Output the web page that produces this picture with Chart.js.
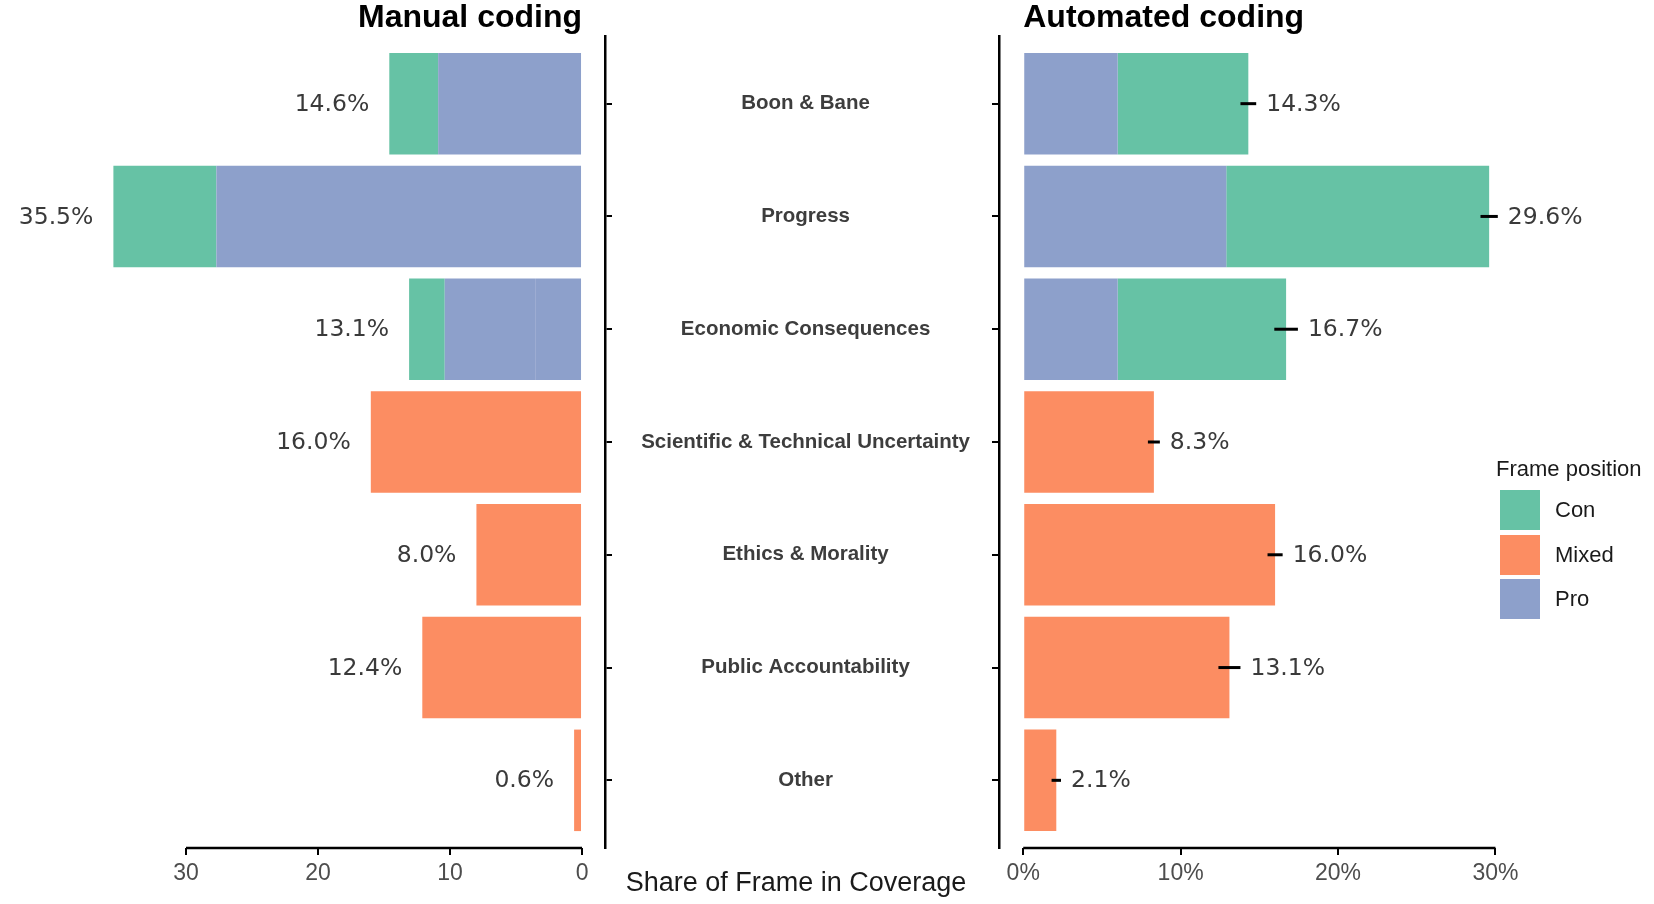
<!DOCTYPE html>
<html>
<head>
<meta charset="utf-8">
<title>Share of Frame in Coverage</title>
<script src="https://cdn.jsdelivr.net/npm/chart.js@4.4.1/dist/chart.umd.min.js"></script>
<style>
  html, body { margin: 0; padding: 0; background: #fff; }
  #wrap { position: relative; width: 1654px; height: 904px; overflow: hidden; font-family: 'Liberation Sans', Arial, sans-serif; }
  #manualBox { position: absolute; left: 0; top: 0; }
  #autoBox { position: absolute; left: 620px; top: 0; }
  #axisTitle { position: absolute; left: 560px; width: 472px; top: 865px; text-align: center; font-size: 27px; color: #1a1a1a; line-height: 34px; }
  #legend { position: absolute; left: 1496px; top: 455px; color: #1a1a1a; }
  #legend .ttl { font-size: 22px; line-height: 28px; margin-bottom: 5px; }
  #legend .row { display: flex; align-items: center; height: 44.5px; }
  #legend .key { width: 40px; height: 40px; margin-left: 4px; margin-right: 15px; }
  #legend .lab { font-size: 22px; }
</style>
</head>
<body>
<div id="wrap">
  <div id="manualBox"><canvas id="manualChart" width="625" height="904"></canvas></div>
  <div id="autoBox"><canvas id="autoChart" width="1034" height="904"></canvas></div>
  <div id="axisTitle">Share of Frame in Coverage</div>
  <div id="legend"></div>
</div>
<script>
// categorias, de cima para baixo
const categories = ['Boon & Bane', 'Progress', 'Economic Consequences', 'Scientific & Technical Uncertainty',
                    'Ethics & Morality', 'Public Accountability', 'Other'];
const positions = ['Con', 'Mixed', 'Pro'];
const positionColors = ['#66c2a5', '#fc8d62', '#8da0cb'];

// Manual coding (share in %)
const manualPro   = [10.9, 27.7, 3.5, 0, 0, 0, 0];
const manualPro2  = [0, 0, 6.9, 0, 0, 0, 0];   // segundo bloco "Pro" em Economic Consequences
const manualCon   = [3.7, 7.8, 2.7, 0, 0, 0, 0];
const manualMixed = [0, 0, 0, 16.0, 8.0, 12.1, 0.6];
const manualLabels = ['14.6%', '35.5%', '13.1%', '16.0%', '8.0%', '12.4%', '0.6%'];
const manualTicks = [0, 10, 20, 30];

// Automated coding (share in %)
const autoPro   = [6.0, 12.9, 6.0, 0, 0, 0, 0];
const autoCon   = [8.3, 16.7, 10.7, 0, 0, 0, 0];
const autoMixed = [0, 0, 0, 8.3, 16.0, 13.1, 2.1];
const autoError = [0.5, 0.55, 0.75, 0.38, 0.48, 0.7, 0.3];
const autoLabels = ['14.3%', '29.6%', '16.7%', '8.3%', '16.0%', '13.1%', '2.1%'];
const autoTicks = [0, 10, 20, 30];

const rowIndex = categories.map((c, i) => i);

function toPoints(arr) {
    return arr.map((v, i) => ({ x: v, y: i })).filter(p => p.x > 0);
}

function sumRows(...series) {
    return categories.map((c, i) => series.reduce((s, a) => s + a[i], 0));
}

const manualTotals = sumRows(manualPro, manualPro2, manualCon, manualMixed);
const autoTotals = sumRows(autoPro, autoCon, autoMixed);

Chart.defaults.font.family = "'Liberation Sans', Arial, sans-serif";
Chart.defaults.animation = false;

/**
 * Desenha eixo x "capado", barras de erro, rótulos e título do painel.
 */
const decorPlugin = {
    id: 'decor',
    afterDatasetsDraw(chart, args, opts) {
        const ctx = chart.ctx;
        const xs = chart.scales.x, ys = chart.scales.y;
        const area = chart.chartArea;
        ctx.save();

        // linha do eixo x só entre o primeiro e o último tick
        ctx.strokeStyle = '#000';
        ctx.lineWidth = 2.5;
        ctx.beginPath();
        ctx.moveTo(xs.getPixelForValue(opts.ticks[0]), area.bottom);
        ctx.lineTo(xs.getPixelForValue(opts.ticks[opts.ticks.length - 1]), area.bottom);
        ctx.stroke();

        // barras de erro
        if (opts.errors) {
            ctx.lineWidth = 3;
            opts.totals.forEach((t, i) => {
                const y = ys.getPixelForValue(i);
                ctx.beginPath();
                ctx.moveTo(xs.getPixelForValue(t - opts.errors[i]), y);
                ctx.lineTo(xs.getPixelForValue(t + opts.errors[i]), y);
                ctx.stroke();
            });
        }

        // rótulos de valor
        ctx.font = "23.5px 'DejaVu Sans'";
        ctx.fillStyle = '#3a3a3a';
        ctx.textBaseline = 'middle';
        opts.totals.forEach((t, i) => {
            const y = ys.getPixelForValue(i);
            if (opts.side === 'left') {
                ctx.textAlign = 'right';
                ctx.fillText(opts.labels[i], xs.getPixelForValue(t) - 20, y + 1);
            } else {
                ctx.textAlign = 'left';
                ctx.fillText(opts.labels[i], xs.getPixelForValue(t + opts.errors[i]) + 10, y + 1);
            }
        });

        // título do painel
        ctx.font = "bold 32px 'Liberation Sans'";
        ctx.fillStyle = '#000';
        ctx.textAlign = opts.titleAlign;
        ctx.fillText(opts.title, xs.getPixelForValue(0), 18);
        ctx.restore();
    }
};

function setTicks(values) {
    return (scale) => { scale.ticks = values.map(v => ({ value: v })); };
}

function initCharts() {
    // Painel esquerdo: codificação manual (eixo invertido)
    new Chart(document.getElementById('manualChart'), {
        type: 'bar',
        data: {
            datasets: [
                { label: 'Pro', data: toPoints(manualPro), backgroundColor: positionColors[2], stack: 'all' },
                { label: 'Pro', data: toPoints(manualPro2), backgroundColor: positionColors[2], stack: 'all' },
                { label: 'Con', data: toPoints(manualCon), backgroundColor: positionColors[0], stack: 'all' },
                { label: 'Mixed', data: toPoints(manualMixed), backgroundColor: positionColors[1], stack: 'all' }
            ]
        },
        options: {
            responsive: false,
            indexAxis: 'y',
            layout: { padding: { top: 36, left: 0, right: 0, bottom: 0 } },
            datasets: { bar: { categoryPercentage: 1, barPercentage: 0.9, borderWidth: 0 } },
            scales: {
                x: {
                    type: 'linear', reverse: true, stacked: true, min: -1.74, max: 44.09,
                    border: { display: false },
                    grid: { drawOnChartArea: false, drawTicks: true, tickLength: 7, color: '#000', lineWidth: 2 },
                    ticks: { font: { size: 23 }, color: '#4d4d4d', padding: 5 },
                    afterBuildTicks: setTicks(manualTicks),
                    afterFit: (s) => { s.height = 56; }
                },
                y: {
                    type: 'linear', position: 'right', reverse: true, min: -0.6, max: 6.6, offset: false,
                    border: { display: true, color: '#000', width: 2.5 },
                    grid: { offset: false, drawOnChartArea: false, drawTicks: true, tickLength: 7, color: '#000', lineWidth: 2 },
                    ticks: { display: false },
                    afterBuildTicks: setTicks(rowIndex),
                    afterFit: (s) => { s.width = 20; }
                }
            },
            plugins: {
                legend: { display: false },
                tooltip: { enabled: false },
                decor: { ticks: manualTicks, totals: manualTotals, labels: manualLabels, side: 'left',
                         title: 'Manual coding', titleAlign: 'right' }
            }
        },
        plugins: [decorPlugin]
    });

    // Painel direito: codificação automática
    new Chart(document.getElementById('autoChart'), {
        type: 'bar',
        data: {
            datasets: [
                { label: 'Pro', data: toPoints(autoPro), backgroundColor: positionColors[2], stack: 'all' },
                { label: 'Con', data: toPoints(autoCon), backgroundColor: positionColors[0], stack: 'all' },
                { label: 'Mixed', data: toPoints(autoMixed), backgroundColor: positionColors[1], stack: 'all' }
            ]
        },
        options: {
            responsive: false,
            indexAxis: 'y',
            layout: { padding: { top: 36, left: 0, right: 134, bottom: 0 } },
            datasets: { bar: { categoryPercentage: 1, barPercentage: 0.9, borderWidth: 0 } },
            scales: {
                x: {
                    type: 'linear', stacked: true, min: -1.54, max: 31.56,
                    border: { display: false },
                    grid: { drawOnChartArea: false, drawTicks: true, tickLength: 7, color: '#000', lineWidth: 2 },
                    ticks: { font: { size: 23 }, color: '#4d4d4d', padding: 5, callback: (v) => v + '%' },
                    afterBuildTicks: setTicks(autoTicks),
                    afterFit: (s) => { s.height = 56; }
                },
                y: {
                    type: 'linear', position: 'left', reverse: true, min: -0.6, max: 6.6, offset: false,
                    border: { display: true, color: '#000', width: 2.5 },
                    grid: { offset: false, drawOnChartArea: false, drawTicks: true, tickLength: 7, color: '#000', lineWidth: 2 },
                    ticks: {
                        crossAlign: 'center', padding: 22, color: '#3d3d3d',
                        font: { size: 20.5, weight: 'bold' },
                        callback: (v) => categories[v]
                    },
                    afterBuildTicks: setTicks(rowIndex),
                    afterFit: (s) => { s.width = 379; }
                }
            },
            plugins: {
                legend: { display: false },
                tooltip: { enabled: false },
                decor: { ticks: autoTicks, totals: autoTotals, labels: autoLabels, errors: autoError, side: 'right',
                         title: 'Automated coding', titleAlign: 'left' }
            }
        },
        plugins: [decorPlugin]
    });
}

function buildLegend() {
    const el = document.getElementById('legend');
    const ttl = document.createElement('div');
    ttl.className = 'ttl';
    ttl.textContent = 'Frame position';
    el.appendChild(ttl);
    positions.forEach((p, k) => {
        const row = document.createElement('div');
        row.className = 'row';
        const key = document.createElement('div');
        key.className = 'key';
        key.style.background = positionColors[k];
        const lab = document.createElement('div');
        lab.className = 'lab';
        lab.textContent = p;
        row.appendChild(key);
        row.appendChild(lab);
        el.appendChild(row);
    });
}

document.addEventListener('DOMContentLoaded', () => {
    initCharts();
    buildLegend();
});
</script>
</body>
</html>
